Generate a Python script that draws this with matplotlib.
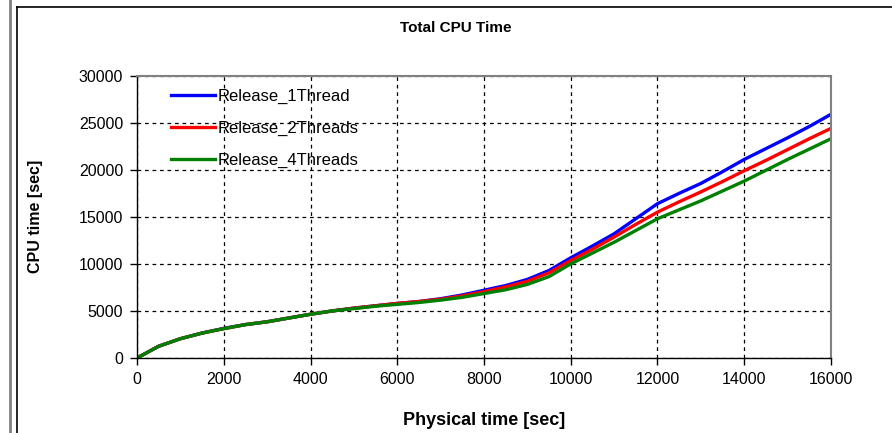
import numpy as np
import matplotlib.pyplot as plt
from matplotlib.lines import Line2D

# physical time [sec] and CPU time [sec]
phys_time = [0, 500, 1000, 1500, 2000, 2500, 3000, 3500, 4000, 4500, 5000,
             5500, 6000, 6500, 7000, 7500, 8000, 8500, 9000, 9500, 10000,
             10500, 11000, 11500, 12000, 12500, 13000, 13500, 14000, 14500,
             15000, 15500, 16000]

cpu_1thread = [0, 1250, 2050, 2650, 3150, 3550, 3850, 4250, 4650, 5000, 5300,
               5550, 5800, 6000, 6300, 6700, 7200, 7700, 8350, 9300, 10650,
               11900, 13200, 14800, 16400, 17500, 18550, 19800, 21100, 22250,
               23400, 24600, 25900]
cpu_2threads = [0, 1250, 2050, 2650, 3120, 3550, 3850, 4250, 4650, 5000, 5300,
                5550, 5800, 6000, 6250, 6600, 7050, 7550, 8150, 9050, 10350,
                11550, 12850, 14200, 15500, 16600, 17650, 18750, 19900, 21000,
                22150, 23300, 24400]
cpu_4threads = [0, 1250, 2050, 2650, 3120, 3550, 3850, 4250, 4650, 5000, 5250,
                5500, 5700, 5900, 6150, 6450, 6850, 7250, 7820, 8650, 10000,
                11150, 12300, 13550, 14800, 15750, 16700, 17750, 18800, 19950,
                21100, 22200, 23300]

series_names = ["Release_1Thread", "Release_2Threads", "Release_4Threads"]
series_colors = ["#0000ff", "#ff0000", "#008000"]

plt.rcParams['font.family'] = ['Liberation Sans', 'DejaVu Sans']

fig = plt.figure(figsize=(8.92, 4.33), dpi=100)
ax = fig.add_axes([0.1536, 0.1732, 0.7780, 0.6520])

for ys, name, col in zip([cpu_1thread, cpu_2threads, cpu_4threads],
                         series_names, series_colors):
    ax.plot(phys_time, ys, color=col, lw=2.4, label=name)

ax.set_xlim(0, 16000)
ax.set_ylim(0, 30000)
ax.set_xticks(np.arange(0, 16001, 2000))
ax.set_yticks(np.arange(0, 30001, 5000))
ax.grid(True, color='black', linestyle=(0, (3, 3)), linewidth=0.9)
ax.set_axisbelow(True)

for side in ['top', 'right']:
    ax.spines[side].set_color('#808080')
    ax.spines[side].set_linewidth(1.5)
for side in ['left', 'bottom']:
    ax.spines[side].set_color('black')
    ax.spines[side].set_linewidth(1.0)

ax.tick_params(direction='out', length=5, width=1, labelsize=11.5, pad=5)

fig.text(456 / 892, 1 - 28 / 433, "Total CPU Time", fontsize=11,
         fontweight='bold', ha='center', va='center')
ax.set_xlabel("Physical time [sec]", fontsize=13, fontweight='bold', labelpad=18)
ax.set_ylabel("CPU time [sec]", fontsize=11.5, fontweight='bold', labelpad=26)

ax.legend(loc='upper left', bbox_to_anchor=(0.028, 1.005), frameon=False,
          fontsize=12, handlelength=2.6, labelspacing=1.0,
          handletextpad=0.2)

# chart-area border and the gray edge on the far left
fig.add_artist(Line2D([17 / 892, 17 / 892], [0, 1 - 7 / 433],
                      transform=fig.transFigure, color='black', lw=1.2))
fig.add_artist(Line2D([17 / 892, 1], [1 - 7 / 433, 1 - 7 / 433],
                      transform=fig.transFigure, color='black', lw=1.2))
fig.add_artist(Line2D([9.5 / 892, 9.5 / 892], [0, 1],
                      transform=fig.transFigure, color='#808080', lw=2.0))

fig.savefig("out.png", dpi=100)
